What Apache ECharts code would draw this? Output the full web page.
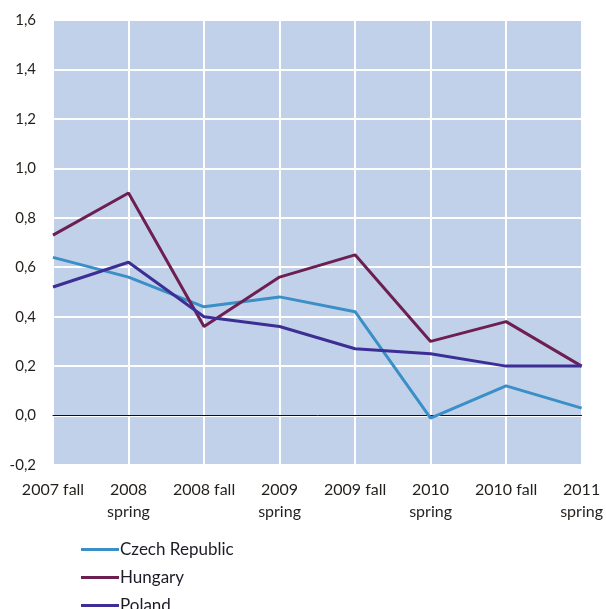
<!DOCTYPE html>
<html lang="en">
<head>
    <meta charset="UTF-8">
    <title>Chart</title>
</head>
<style>
    body{
        margin: 0;
        padding: 0;
        background-color: #fff;
    }
    .main{
        width: 606px;
        height: 609px;
    }
</style>
<body>
    <div class="main"></div>
</body>
<script src="https://cdn.jsdelivr.net/npm/echarts@6/dist/echarts.min.js"></script>
<script>
  var categories = ['2007 fall', '2008\nspring', '2008 fall', '2009\nspring', '2009 fall', '2010\nspring', '2010 fall', '2011\nspring'];
  var czech   = [0.64, 0.56, 0.44, 0.48, 0.42, -0.01, 0.12, 0.03];
  var hungary = [0.73, 0.90, 0.36, 0.56, 0.65, 0.30, 0.38, 0.20];
  var poland  = [0.52, 0.62, 0.40, 0.36, 0.27, 0.25, 0.20, 0.20];

  var myChart = echarts.init(document.querySelector('.main'));
  var font = 'Lato, "Open Sans", sans-serif';
  var option = {
      animation: false,
      grid: {
          left: 53, right: 23, top: 20, bottom: 144,
          show: true,
          backgroundColor: '#c1d1ea',
          borderWidth: 0
      },
      legend: {
          orient: 'vertical',
          left: 76,
          top: 536,
          height: 120,
          itemGap: 11,
          itemWidth: 38,
          itemHeight: 3,
          icon: 'rect',
          textStyle: { fontFamily: font, fontSize: 17, color: '#1c1c28', padding: [0, 0, 0, -4] },
          data: ['Czech Republic', 'Hungary', 'Poland']
      },
      xAxis: {
          type: 'category',
          data: categories,
          boundaryGap: false,
          axisLine: { onZero: true, lineStyle: { color: '#111', width: 1 } },
          axisTick: { show: false },
          axisLabel: {
              fontFamily: font, fontSize: 16, color: '#231f1c',
              lineHeight: 22, margin: 14, interval: 0
          },
          splitLine: { show: true, lineStyle: { color: '#ffffff', width: 2 } }
      },
      yAxis: {
          type: 'value',
          min: -0.2, max: 1.6, interval: 0.2,
          axisLine: { show: false },
          axisTick: { show: false },
          axisLabel: {
              fontFamily: font, fontSize: 15, color: '#231f1c', margin: 17,
              formatter: function (v) { return v.toFixed(1).replace('.', ','); }
          },
          splitLine: { show: true, lineStyle: { color: '#ffffff', width: 2 } }
      },
      series: [
          { name: 'Czech Republic', type: 'line', data: czech, symbol: 'none',
            lineStyle: { color: '#3a8fc6', width: 3 }, itemStyle: { color: '#3a8fc6' } },
          { name: 'Hungary', type: 'line', data: hungary, symbol: 'none',
            lineStyle: { color: '#6d1f52', width: 3 }, itemStyle: { color: '#6d1f52' } },
          { name: 'Poland', type: 'line', data: poland, symbol: 'none',
            lineStyle: { color: '#3c2e94', width: 3 }, itemStyle: { color: '#3c2e94' } }
      ]
  };
  myChart.setOption(option);
</script>
</html>
